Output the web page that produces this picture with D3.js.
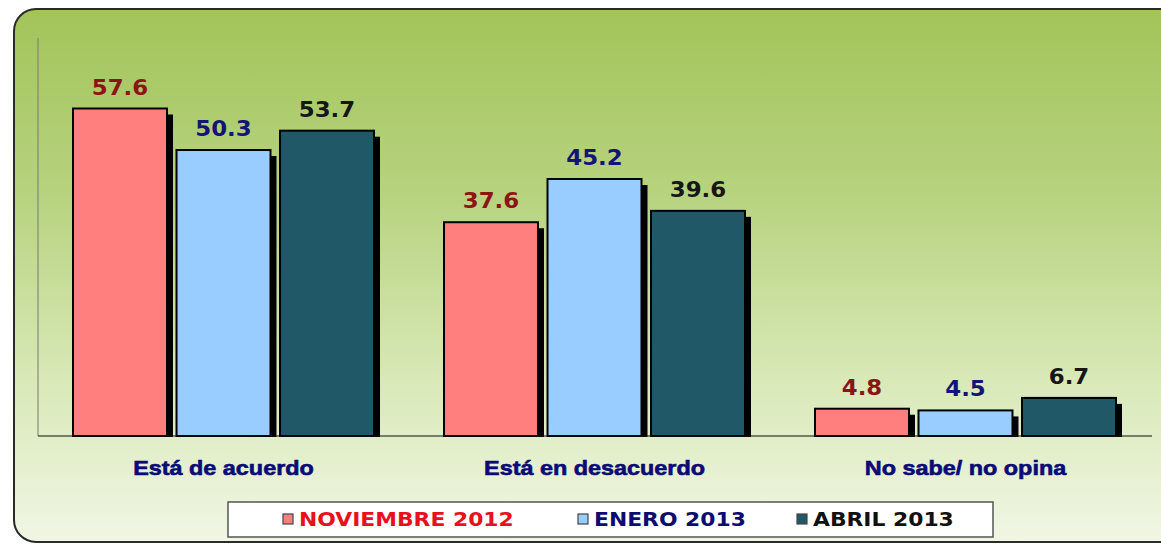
<!DOCTYPE html>
<html><head><meta charset="utf-8">
<script src="https://cdn.jsdelivr.net/npm/d3@7"></script>
<style>html,body{margin:0;padding:0;background:#fff;}svg{display:block;}</style>
</head><body>
<svg id="chart" width="1161" height="544"></svg>
<script>
const categories = ["Está de acuerdo", "Está en desacuerdo", "No sabe/ no opina"];
const seriesNames = ["NOVIEMBRE 2012", "ENERO 2013", "ABRIL 2013"];
const noviembre2012 = [57.6, 37.6, 4.8];
const enero2013 = [50.3, 45.2, 4.5];
const abril2013 = [53.7, 39.6, 6.7];
const seriesValues = [noviembre2012, enero2013, abril2013];
const barColors = ["#ff7f7f", "#99ccff", "#215868"];
const labelColors = ["#8c1414", "#141478", "#161616"];
const legendColors = ["#e8101c", "#0c0c70", "#111111"];

const svg = d3.select("#chart");
const defs = svg.append("defs");
const grad = defs.append("linearGradient").attr("id","bg").attr("x1",0).attr("y1",0).attr("x2",0).attr("y2",1);
[[0,"#a2c459"],[0.35,"#b7d37f"],[0.7,"#d9e9b8"],[1,"#f1f6e4"]].forEach(s=>grad.append("stop").attr("offset",s[0]).attr("stop-color",s[1]));

// frame
svg.append("rect").attr("x",14).attr("y",9).attr("width",1170).attr("height",533).attr("rx",22).attr("ry",22)
  .attr("fill","url(#bg)").attr("stroke","#2a2a2a").attr("stroke-width",2);

const y = d3.scaleLinear().domain([0,70]).range([436,38]);
const x0 = d3.scaleBand().domain(categories).range([38,1151]).padding(0);
const x1 = d3.scaleBand().domain(seriesNames).range([35,336]).paddingInner(0.092).paddingOuter(0);

// axis line
svg.append("line").attr("x1",38).attr("x2",38).attr("y1",y(70)).attr("y2",y(0)).attr("stroke","#7a7a6a").attr("stroke-width",1);

const data = [];
categories.forEach((c,i)=>seriesNames.forEach((s,j)=>data.push({c, s, j, v: seriesValues[j][i]})));

const g = svg.append("g");
g.selectAll("rect.sh").data(data).enter().append("rect").attr("class","sh")
  .attr("x",d=>x0(d.c)+x1(d.s)+6).attr("y",d=>y(d.v)+6)
  .attr("width",x1.bandwidth()).attr("height",d=>y(0)-y(d.v)-5)
  .attr("fill","#000");
g.selectAll("rect.bar").data(data).enter().append("rect").attr("class","bar")
  .attr("x",d=>x0(d.c)+x1(d.s)).attr("y",d=>y(d.v))
  .attr("width",x1.bandwidth()).attr("height",d=>y(0)-y(d.v))
  .attr("fill",d=>barColors[d.j]).attr("stroke","#000").attr("stroke-width",2);

svg.append("line").attr("x1",38).attr("x2",1152).attr("y1",y(0)).attr("y2",y(0)).attr("stroke","#111").attr("stroke-width",1.2);

// value labels
g.selectAll("text.val").data(data).enter().append("text").attr("class","val")
  .attr("transform",d=>`translate(${x0(d.c)+x1(d.s)+x1.bandwidth()/2},${y(d.v)-14}) scale(1.04,1)`)
  .attr("text-anchor","middle").attr("font-family","'DejaVu Sans', Verdana, sans-serif").attr("font-weight","bold")
  .attr("font-size",22).attr("fill",d=>labelColors[d.j]).text(d=>d.v.toFixed(1));

// category labels
svg.selectAll("text.cat").data(categories).enter().append("text").attr("class","cat")
  .attr("transform",d=>`translate(${x0(d)+x0.bandwidth()/2},${475}) scale(1.17,1)`)
  .attr("text-anchor","middle").attr("font-family","'Liberation Sans', Arial, sans-serif").attr("font-weight","bold")
  .attr("font-size",20).attr("fill","#0a0a78").attr("stroke","#0a0a78").attr("stroke-width",0.6).text(d=>d);

// legend
svg.append("rect").attr("x",228).attr("y",502).attr("width",765).attr("height",35).attr("fill","#fff").attr("stroke","#555").attr("stroke-width",1.5);
const legendX = [283, 578, 797];
const lg = svg.selectAll("g.lg").data(seriesNames).enter().append("g").attr("class","lg")
  .attr("transform",(d,i)=>`translate(${legendX[i]},519)`);
lg.append("rect").attr("x",0).attr("y",-5).attr("width",10).attr("height",10)
  .attr("fill",(d,i)=>barColors[i]).attr("stroke","#444").attr("stroke-width",1.2);
lg.append("text").attr("transform","translate(16,7) scale(1.15,1)")
  .attr("font-family","'DejaVu Sans', Verdana, sans-serif").attr("font-weight","bold").attr("font-size",19)
  .attr("fill",(d,i)=>legendColors[i]).text(d=>d);
</script>
</body></html>
